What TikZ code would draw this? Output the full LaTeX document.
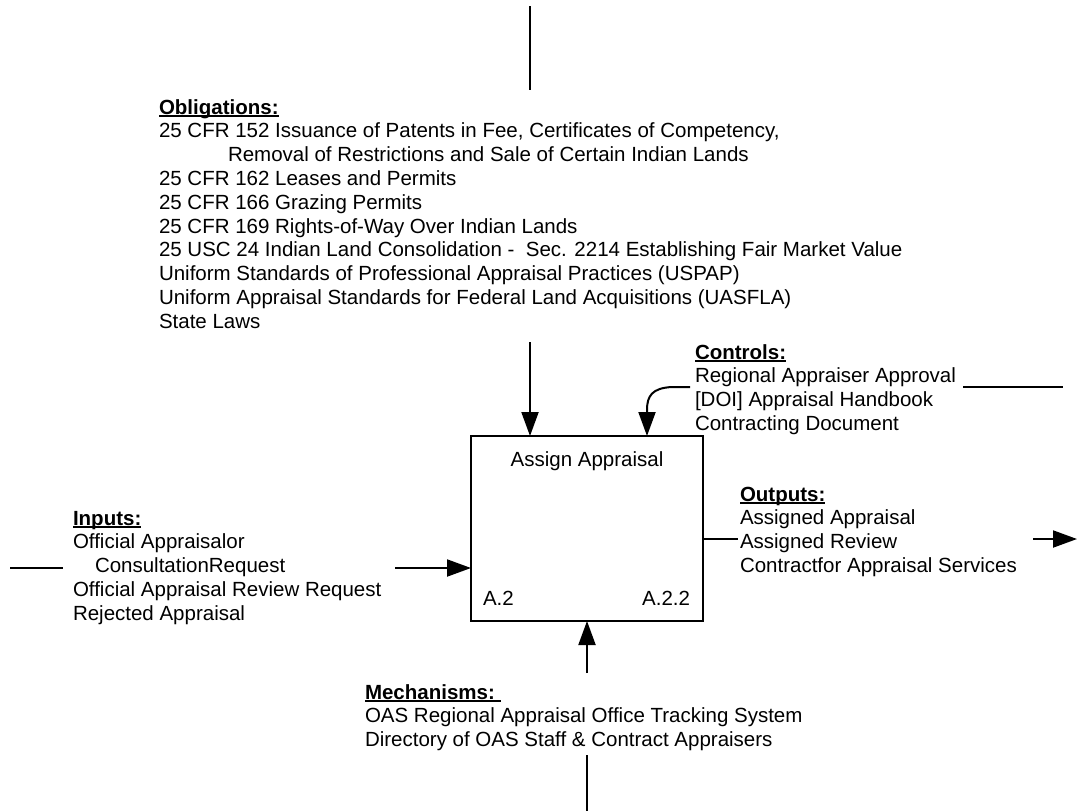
\documentclass[tikz,border=0pt]{standalone}
\usepackage{fontspec}
\setmainfont{Liberation Sans}
\usetikzlibrary{arrows.meta}
% heading of a text block: bold, with a solid rule under it
\newcommand\blockhead[1]{\setbox0\hbox{\textbf{#1}}\rlap{\rule[-3pt]{\wd0}{1.8pt}}\box0}
% fixes the height of the first line so blocks can be placed by their baseline
\newcommand\topstrut{\rule{0pt}{17pt}}
\begin{document}
\begin{tikzpicture}[x=1pt,y=-1pt,
  every node/.style={inner sep=0pt, outer sep=0pt, font=\fontsize{20.5}{23.8}\selectfont},
  lbl/.style={anchor=north west, align=left},
  link/.style={line width=2pt},
  feed/.style={link, -{Triangle[length=24pt,width=17pt]}},
  procbox/.style={draw, line width=2pt, minimum width=232pt, minimum height=185pt, anchor=north west}]
\useasboundingbox (0,0) rectangle (1083,811);

% activity box
\node[procbox] (box) at (471,436) {};
\node[anchor=base] (boxtitle) at (587,466) {Assign Appraisal};
\node[anchor=base west] (boxnode) at (483,605) {A.2};
\node[anchor=base east] (boxid) at (690,605) {A.2.2};

% text blocks
\node[lbl] (obl) at (159,97) {\topstrut\blockhead{Obligations:}\\
25 CFR 152 Issuance of Patents in Fee, Certificates of Competency,\\
\hspace*{69pt}Removal of Restrictions and Sale of Certain Indian Lands\\
25 CFR 162 Leases and Permits\\
25 CFR 166 Grazing Permits\\
25 CFR 169 Rights-of-Way Over Indian Lands\\
25 USC 24 Indian Land Consolidation - \ Sec. 2214 Establishing Fair Market Value\\
Uniform Standards of Professional Appraisal Practices (USPAP)\\
Uniform Appraisal Standards for Federal Land Acquisitions (UASFLA)\\
State Laws};

\node[lbl] (ctl) at (695,342) {\topstrut\blockhead{Controls:}\\
Regional Appraiser Approval\\
{[DOI]} Appraisal Handbook\\
Contracting Document};

\node[lbl] (outp) at (740,484) {\topstrut\blockhead{Outputs:}\\
Assigned Appraisal\\
Assigned Review\\
Contractfor Appraisal Services};

\node[lbl] (inp) at (73,508) {\topstrut\blockhead{Inputs:}\\
Official Appraisalor\\
\hspace*{22pt}ConsultationRequest\\
Official Appraisal Review Request\\
Rejected Appraisal};

\node[lbl] (mech) at (365,682) {\topstrut\blockhead{Mechanisms:\ }\\
OAS Regional Appraisal Office Tracking System\\
Directory of OAS Staff \& Contract Appraisers};

% connector ends
\coordinate (topS) at (530,6);
\coordinate (topE) at (530,90);
\coordinate (oblS) at (530,342);
\coordinate (ctlS) at (690,387);
\coordinate (ctlK) at (672,387);
\coordinate (ctlX) at (647,410);
\coordinate (regA) at (963,387);
\coordinate (regB) at (1063,387);
\coordinate (inA) at (10,568);
\coordinate (inB) at (63,568);
\coordinate (inS) at (395,568);
\coordinate (outE) at (738,539);
\coordinate (outS) at (1033,539);
\coordinate (outT) at (1077,539);
\coordinate (mecS) at (587,673);
\coordinate (mecA) at (587,755);
\coordinate (mecB) at (587,811);

% connectors
\draw[link] (topS) -- (topE);
\draw[feed] (oblS) -- (oblS |- box.north);
\draw[feed] (ctlS) -- (ctlK) .. controls (652,388) and (647,396) .. (ctlX) -- (ctlX |- box.north);
\draw[link] (regA) -- (regB);
\draw[link] (inA) -- (inB);
\draw[feed] (inS) -- (inS -| box.west);
\draw[link] (outE -| box.east) -- (outE);
\draw[feed] (outS) -- (outT);
\draw[feed] (mecS) -- (mecS |- box.south);
\draw[link] (mecA) -- (mecB);
\end{tikzpicture}
\end{document}
